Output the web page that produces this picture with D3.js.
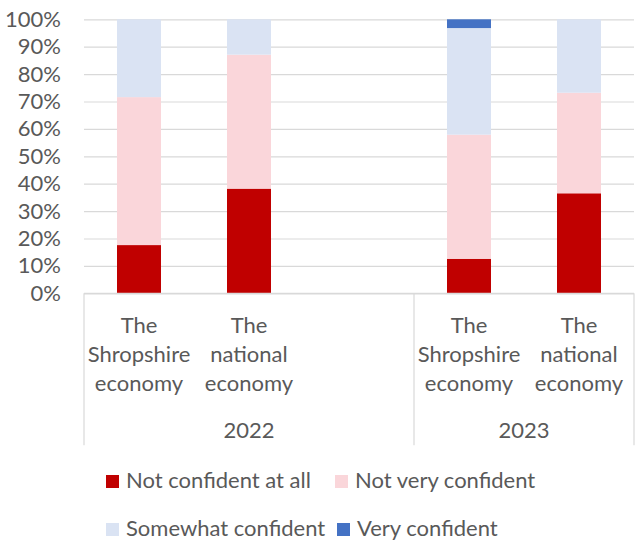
<!DOCTYPE html>
<html>
<head>
<meta charset="utf-8">
<script src="https://cdn.jsdelivr.net/npm/d3@7"></script>
<style>
  html, body { margin: 0; padding: 0; background: #fff; }
  svg { display: block; }
  text { font-family: Lato, "Open Sans", sans-serif; fill: #595959; }
</style>
</head>
<body>
<svg id="chart" width="635" height="541"></svg>
<script>
// Confidence in the economy, by survey year (percent of respondents)
const categoryKeys = ["2022-shropshire", "2022-national", "2022-gap", "2023-shropshire", "2023-national"];
const categoryLines = [
  ["The", "Shropshire", "economy"],
  ["The", "national", "economy"],
  [],
  ["The", "Shropshire", "economy"],
  ["The", "national", "economy"]
];
const categoryYear = ["2022", "2022", "2022", "2023", "2023"];
const years = ["2022", "2023"];

const seriesNames = ["Not confident at all", "Not very confident", "Somewhat confident", "Very confident"];
const notConfidentAtAll = [17.6, 38.2, 0, 12.6, 36.5];
const notVeryConfident  = [54.0, 48.9, 0, 45.3, 36.7];
const somewhatConfident = [28.4, 12.9, 0, 38.9, 26.8];
const veryConfident     = [0.0, 0.0, 0, 3.2, 0.0];
const seriesColors = ["#C00000", "#FAD6DA", "#DAE3F3", "#4472C4"];
const yTicks = [0, 10, 20, 30, 40, 50, 60, 70, 80, 90, 100];

const FONT = 22;
const svg = d3.select("#chart");
const margin = { top: 19.3, right: 1, bottom: 247.7, left: 84 };
const width = 635 - margin.left - margin.right;
const height = 541 - margin.top - margin.bottom;
const g = svg.append("g").attr("transform", `translate(${margin.left},${margin.top})`);

const rows = categoryKeys.map((k, i) => ({
  key: k,
  [seriesNames[0]]: notConfidentAtAll[i],
  [seriesNames[1]]: notVeryConfident[i],
  [seriesNames[2]]: somewhatConfident[i],
  [seriesNames[3]]: veryConfident[i]
}));

const x = d3.scaleBand().domain(categoryKeys).range([0, width]).paddingInner(0.6).paddingOuter(0.3);
const y = d3.scaleLinear().domain([0, 100]).range([height, 0]);
const color = d3.scaleOrdinal().domain(seriesNames).range(seriesColors);

// gridlines
g.append("g")
  .call(d3.axisLeft(y).tickValues(yTicks).tickSize(-width).tickFormat(""))
  .call(a => a.select(".domain").remove())
  .call(a => a.selectAll("line").attr("stroke", "#D9D9D9").attr("stroke-width", 1.2));

// y axis labels
g.append("g")
  .call(d3.axisLeft(y).tickValues(yTicks).tickSize(0).tickPadding(23).tickFormat(d => d + "%"))
  .call(a => a.select(".domain").remove())
  .call(a => a.selectAll("text")
    .style("font-size", FONT + "px")
    .style("fill", "#595959")
    .style("font-family", "Lato, sans-serif"));

// stacked bars
const stacked = d3.stack().keys(seriesNames)(rows);
g.append("g").selectAll("g")
  .data(stacked)
  .join("g")
  .attr("fill", d => color(d.key))
  .selectAll("rect")
  .data(d => d)
  .join("rect")
  .attr("x", d => x(d.data.key))
  .attr("width", x.bandwidth())
  .attr("y", d => y(d[1]))
  .attr("height", d => y(d[0]) - y(d[1]));

// category axis: baseline, group separators and labels
const step = x.step();
const half = (step - x.bandwidth()) / 2;
g.append("line")
  .attr("x1", 0).attr("x2", width)
  .attr("y1", height).attr("y2", height)
  .attr("stroke", "#D9D9D9").attr("stroke-width", 1.2);

const groupBounds = years.map(yr => {
  const keys = categoryKeys.filter((k, i) => categoryYear[i] === yr);
  return { year: yr, x0: x(keys[0]) - half, x1: x(keys[keys.length - 1]) + x.bandwidth() + half };
});
const sepX = [groupBounds[0].x0, ...groupBounds.map(b => b.x1)];
g.selectAll(".sep")
  .data(sepX)
  .join("line")
  .attr("class", "sep")
  .attr("x1", d => d).attr("x2", d => d)
  .attr("y1", height).attr("y2", height + 152)
  .attr("stroke", "#D9D9D9").attr("stroke-width", 1.2);

const lineOffsets = [39.4, 69, 97.7];
categoryKeys.forEach((k, i) => {
  const cx = x(k) + x.bandwidth() / 2;
  g.append("text")
    .attr("text-anchor", "middle")
    .style("font-size", FONT + "px")
    .selectAll("tspan")
    .data(categoryLines[i])
    .join("tspan")
    .attr("x", cx)
    .attr("y", (d, j) => height + lineOffsets[j])
    .text(d => d);
});

g.selectAll(".year")
  .data(groupBounds)
  .join("text")
  .attr("class", "year")
  .attr("text-anchor", "middle")
  .attr("x", d => (d.x0 + d.x1) / 2)
  .attr("y", height + 144.4)
  .style("font-size", FONT + "px")
  .text(d => d.year);

// legend
const legendItems = [
  { name: seriesNames[0], x: 106, y: 475 },
  { name: seriesNames[1], x: 335, y: 475 },
  { name: seriesNames[2], x: 106, y: 523 },
  { name: seriesNames[3], x: 337, y: 523 }
];
const legend = svg.append("g").selectAll("g")
  .data(legendItems)
  .join("g")
  .attr("transform", d => `translate(${d.x},${d.y})`);
legend.append("rect")
  .attr("width", 13).attr("height", 13)
  .attr("fill", d => color(d.name));
legend.append("text")
  .attr("x", 20).attr("y", 13)
  .style("font-size", FONT + "px")
  .text(d => d.name);
</script>
</body>
</html>
